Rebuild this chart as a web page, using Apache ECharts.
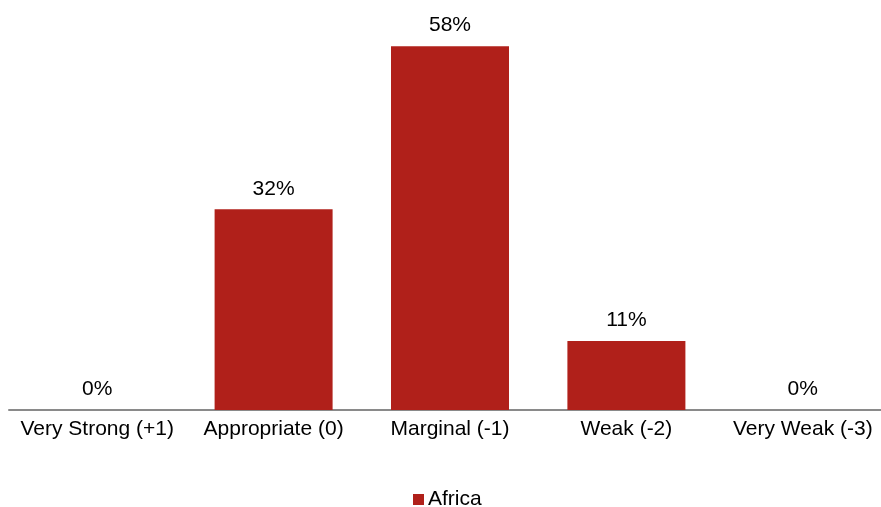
<!DOCTYPE html>
<html>
<head>
<meta charset="utf-8">
<script src="https://cdn.jsdelivr.net/npm/echarts@6/dist/echarts.min.js"></script>
<style>
  html, body { margin: 0; padding: 0; background: #ffffff; }
  #chart { width: 881px; height: 507px; }
</style>
</head>
<body>
<div id="chart"></div>
<script>
// Rating categories and share of responses (%)
const categories = ['Very Strong (+1)', 'Appropriate (0)', 'Marginal (-1)', 'Weak (-2)', 'Very Weak (-3)'];
const seriesName = 'Africa';
const africaValues = [0, 32, 58, 11, 0];

const FONT = '"Liberation Sans", Arial, sans-serif';
const chart = echarts.init(document.getElementById('chart'), null, { renderer: 'canvas' });

chart.setOption({
  animation: false,
  textStyle: { fontFamily: FONT },
  grid: { left: 9, width: 882, top: 33.6, bottom: 97, containLabel: false, outerBoundsMode: 'none' },
  legend: {
    data: [seriesName],
    left: 408,
    top: 484,
    itemWidth: 11,
    itemHeight: 11,
    itemGap: 10,
    icon: 'rect',
    textStyle: { fontFamily: FONT, fontSize: 21, color: '#000000', padding: [0, 0, 0, -1] }
  },
  xAxis: {
    type: 'category',
    data: categories,
    axisLine: { lineStyle: { color: '#8a8a8a', width: 2 } },
    axisTick: { show: false },
    axisLabel: { fontFamily: FONT, fontSize: 21, color: '#000000', margin: 9, interval: 0 }
  },
  yAxis: {
    type: 'value',
    min: 0,
    max: 60,
    show: false,
    splitLine: { show: false }
  },
  series: [{
    name: seriesName,
    type: 'bar',
    data: africaValues,
    barWidth: 118,
    itemStyle: { color: '#B0201A' },
    label: {
      show: true,
      position: 'top',
      distance: 10,
      formatter: p => p.value + '%',
      fontFamily: FONT,
      fontSize: 21,
      color: '#000000'
    }
  }]
});
</script>
</body>
</html>
